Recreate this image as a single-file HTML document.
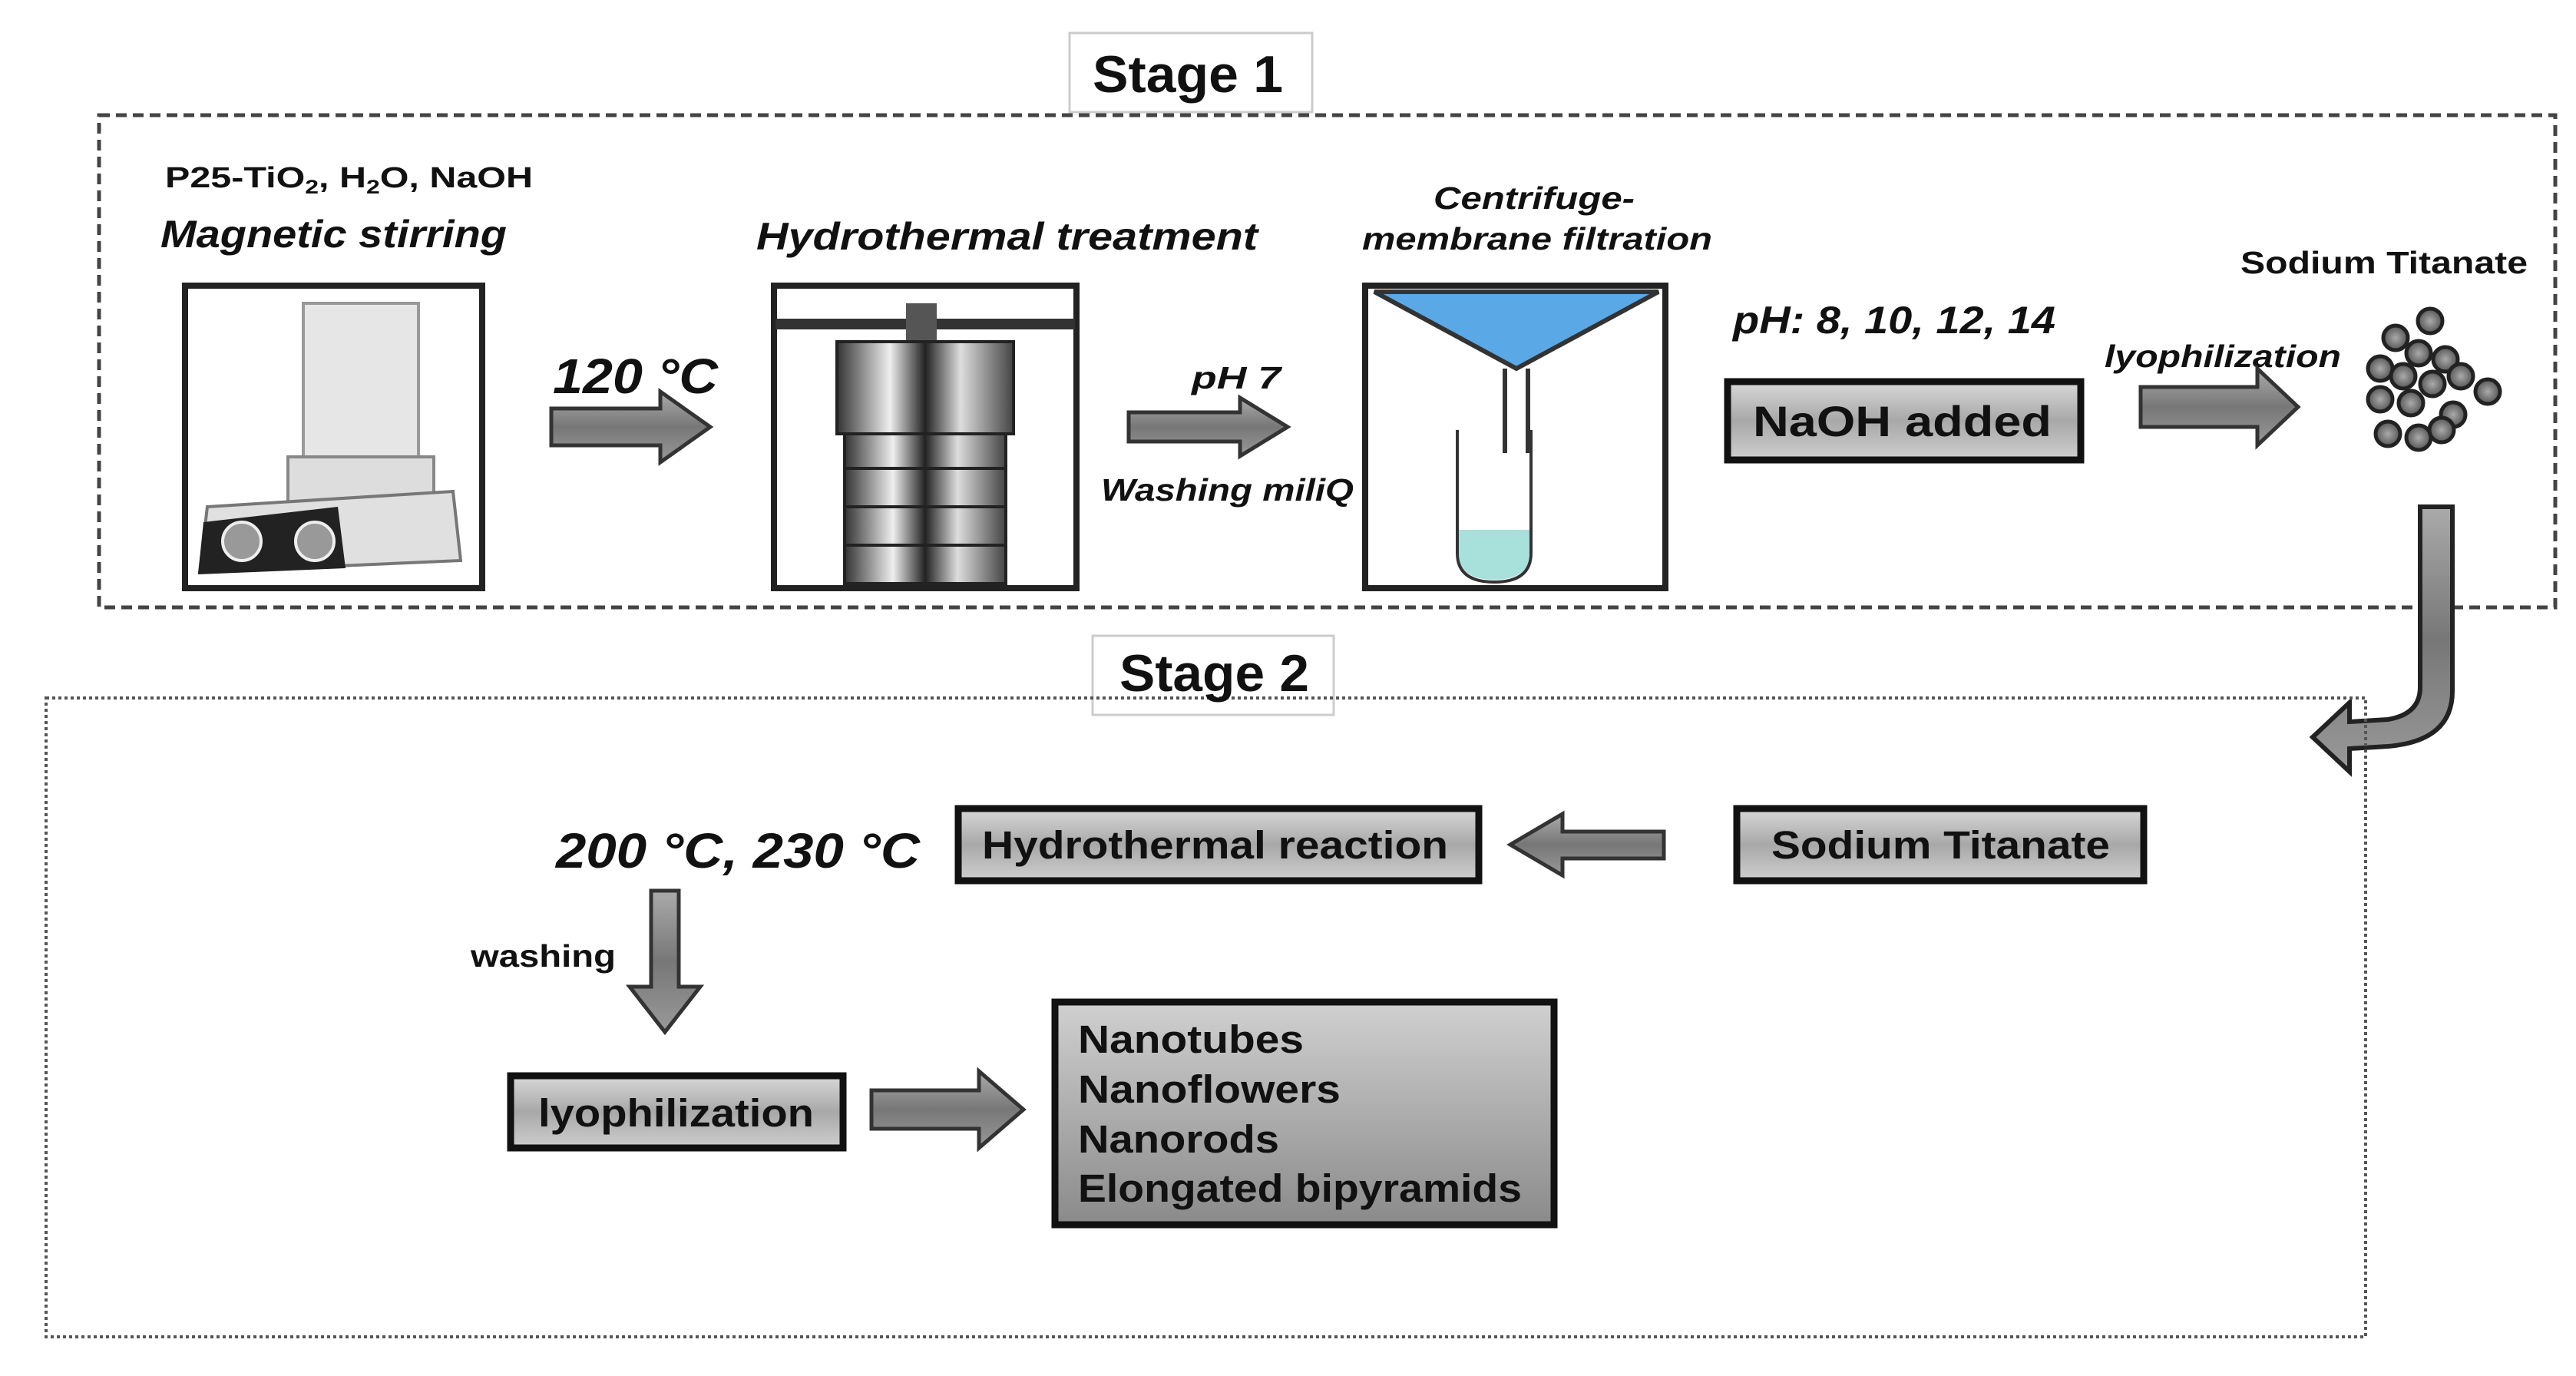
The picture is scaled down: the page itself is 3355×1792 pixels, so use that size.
<!DOCTYPE html>
<html><head><meta charset="utf-8"><style>
html,body{margin:0;padding:0;background:#fff}
svg{display:block}
text{font-family:"Liberation Sans",sans-serif;font-weight:bold;fill:#111}
</style></head><body>
<svg width="3355" height="1792" viewBox="0 0 3355 1792" xmlns="http://www.w3.org/2000/svg">
<defs>
<linearGradient id="bx" x1="0" y1="0" x2="0" y2="1"><stop offset="0" stop-color="#d8d8d8"/><stop offset="0.5" stop-color="#a8a8a8"/><stop offset="1" stop-color="#cfcfcf"/></linearGradient>
<linearGradient id="res" x1="0" y1="0" x2="0" y2="1"><stop offset="0" stop-color="#d0d0d0"/><stop offset="1" stop-color="#8a8a8a"/></linearGradient>
<linearGradient id="ar" x1="0" y1="0" x2="0" y2="1"><stop offset="0" stop-color="#aaa"/><stop offset="0.5" stop-color="#777"/><stop offset="1" stop-color="#999"/></linearGradient>
<linearGradient id="ms" x1="0" y1="0" x2="1" y2="0"><stop offset="0" stop-color="#333"/><stop offset="0.3" stop-color="#eee"/><stop offset="0.5" stop-color="#222"/><stop offset="0.7" stop-color="#ddd"/><stop offset="1" stop-color="#444"/></linearGradient>
<radialGradient id="pt"><stop offset="0" stop-color="#aaa"/><stop offset="1" stop-color="#555"/></radialGradient>
</defs>

<!-- Stage 1 -->
<rect x="1393" y="43" width="316" height="103" fill="#fff" stroke="#ccc" stroke-width="3"/>
<text x="1423" y="120" font-size="68" textLength="248" lengthAdjust="spacingAndGlyphs">Stage 1</text>
<rect x="129" y="150" width="3199" height="641" fill="none" stroke="#444" stroke-width="5" stroke-dasharray="14,8"/>

<text x="215" y="244" font-size="38" textLength="479" lengthAdjust="spacingAndGlyphs">P25-TiO<tspan font-size="25" dy="8">2</tspan><tspan dy="-8">, H</tspan><tspan font-size="25" dy="8">2</tspan><tspan dy="-8">O, NaOH</tspan></text>
<text x="209" y="322" font-size="50" font-style="italic" textLength="451" lengthAdjust="spacingAndGlyphs">Magnetic stirring</text>

<!-- image 1 -->
<rect x="241" y="372" width="387" height="394" fill="#fff" stroke="#222" stroke-width="8"/>
<rect x="395" y="395" width="150" height="200" fill="#e6e6e6" stroke="#999" stroke-width="4"/>
<rect x="375" y="595" width="190" height="60" fill="#ddd" stroke="#888" stroke-width="4"/>
<polygon points="270,660 590,640 600,730 260,745" fill="#e0e0e0" stroke="#777" stroke-width="4"/>
<polygon points="265,680 440,660 450,740 258,748" fill="#222"/>
<circle cx="315" cy="705" r="25" fill="#999" stroke="#eee" stroke-width="4"/>
<circle cx="410" cy="705" r="25" fill="#999" stroke="#eee" stroke-width="4"/>

<text x="720" y="512" font-size="64" font-style="italic" textLength="215" lengthAdjust="spacingAndGlyphs">120 °C</text>
<polygon points="718,532 860,532 860,510 925,556 860,602 860,580 718,580" fill="url(#ar)" stroke="#333" stroke-width="5"/>

<text x="985" y="325" font-size="50" font-style="italic" textLength="653" lengthAdjust="spacingAndGlyphs">Hydrothermal treatment</text>
<rect x="1008" y="372" width="394" height="394" fill="#fff" stroke="#222" stroke-width="8"/>
<rect x="1010" y="415" width="390" height="14" fill="#333"/>
<rect x="1180" y="395" width="40" height="50" fill="#555"/>
<rect x="1090" y="445" width="230" height="120" fill="url(#ms)" stroke="#222" stroke-width="4"/>
<rect x="1100" y="565" width="210" height="195" fill="url(#ms)" stroke="#222" stroke-width="4"/>
<line x1="1100" y1="610" x2="1310" y2="610" stroke="#222" stroke-width="4"/>
<line x1="1100" y1="660" x2="1310" y2="660" stroke="#222" stroke-width="4"/>
<line x1="1100" y1="710" x2="1310" y2="710" stroke="#222" stroke-width="4"/>

<text x="1552" y="506" font-size="41" font-style="italic" textLength="116" lengthAdjust="spacingAndGlyphs">pH  7</text>
<polygon points="1470,537 1615,537 1615,518 1677,556 1615,594 1615,575 1470,575" fill="url(#ar)" stroke="#333" stroke-width="5"/>
<text x="1434" y="652" font-size="41" font-style="italic" textLength="329" lengthAdjust="spacingAndGlyphs">Washing miliQ</text>

<text x="1867" y="272" font-size="41" font-style="italic" textLength="262" lengthAdjust="spacingAndGlyphs">Centrifuge-</text>
<text x="1774" y="325" font-size="41" font-style="italic" textLength="456" lengthAdjust="spacingAndGlyphs">membrane filtration</text>
<rect x="1778" y="372" width="391" height="394" fill="#fff" stroke="#222" stroke-width="8"/>
<polygon points="1790,380 2160,380 1975,480" fill="#5aa9e6" stroke="#333" stroke-width="6"/>
<path d="M1960,480 L1960,590 M1990,480 L1990,590" stroke="#333" stroke-width="6"/>
<path d="M1898,560 L1898,720 Q1898,758 1946,758 Q1994,758 1994,720 L1994,560" fill="none" stroke="#333" stroke-width="4"/>
<path d="M1900,690 L1992,690 L1992,720 Q1992,755 1946,755 Q1900,755 1900,720 Z" fill="#a8e0dc"/>

<text x="2257" y="434" font-size="50" font-style="italic" textLength="420" lengthAdjust="spacingAndGlyphs">pH: 8, 10, 12, 14</text>
<rect x="2250" y="497" width="460" height="102" fill="url(#bx)" stroke="#111" stroke-width="9"/>
<text x="2283" y="568" font-size="56" textLength="389" lengthAdjust="spacingAndGlyphs">NaOH added</text>

<text x="2741" y="478" font-size="41" font-style="italic" textLength="308" lengthAdjust="spacingAndGlyphs">lyophilization</text>
<polygon points="2788,504 2940,504 2940,480 2993,530 2940,580 2940,556 2788,556" fill="url(#ar)" stroke="#333" stroke-width="5"/>

<text x="2918" y="356" font-size="41" textLength="374" lengthAdjust="spacingAndGlyphs">Sodium Titanate</text>
<g fill="url(#pt)" stroke="#222" stroke-width="5">
<circle cx="3165" cy="418" r="16"/><circle cx="3120" cy="440" r="16"/><circle cx="3150" cy="460" r="16"/><circle cx="3185" cy="468" r="16"/>
<circle cx="3100" cy="480" r="16"/><circle cx="3130" cy="490" r="16"/><circle cx="3168" cy="500" r="16"/><circle cx="3205" cy="490" r="16"/>
<circle cx="3240" cy="510" r="16"/><circle cx="3100" cy="520" r="16"/><circle cx="3140" cy="525" r="16"/><circle cx="3195" cy="540" r="16"/>
<circle cx="3110" cy="565" r="16"/><circle cx="3150" cy="570" r="16"/><circle cx="3180" cy="560" r="16"/>
</g>

<!-- curved arrow -->
<path d="M3152,660 L3194,660 L3194,900 Q3194,965 3110,972 L3060,975 L3060,1005 L3012,960 L3060,915 L3060,940 L3110,937 Q3152,930 3152,895 Z" fill="url(#ar)" stroke="#222" stroke-width="6"/>

<!-- Stage 2 -->
<rect x="1423" y="828" width="314" height="103" fill="#fff" stroke="#ccc" stroke-width="3"/>
<rect x="60" y="909" width="3021" height="832" fill="none" stroke="#555" stroke-width="4" stroke-dasharray="4,4"/>
<rect x="1430" y="830" width="300" height="76" fill="#fff"/>
<text x="1458" y="900" font-size="68" textLength="247" lengthAdjust="spacingAndGlyphs">Stage 2</text>

<rect x="2262" y="1053" width="530" height="94" fill="url(#bx)" stroke="#111" stroke-width="9"/>
<text x="2307" y="1118" font-size="51" textLength="441" lengthAdjust="spacingAndGlyphs">Sodium Titanate</text>
<polygon points="2167,1083 2035,1083 2035,1060 1967,1100 2035,1140 2035,1118 2167,1118" fill="url(#ar)" stroke="#333" stroke-width="5"/>
<rect x="1248" y="1053" width="678" height="94" fill="url(#bx)" stroke="#111" stroke-width="9"/>
<text x="1279" y="1118" font-size="51" textLength="607" lengthAdjust="spacingAndGlyphs">Hydrothermal reaction</text>

<text x="724" y="1130" font-size="64" font-style="italic" textLength="474" lengthAdjust="spacingAndGlyphs">200 °C, 230 °C</text>
<polygon points="848,1160 884,1160 884,1285 912,1285 866,1344 820,1285 848,1285" fill="url(#ar)" stroke="#333" stroke-width="5"/>
<text x="613" y="1259" font-size="41" textLength="189" lengthAdjust="spacingAndGlyphs">washing</text>

<rect x="665" y="1401" width="433" height="94" fill="url(#bx)" stroke="#111" stroke-width="9"/>
<text x="701" y="1467" font-size="51" textLength="359" lengthAdjust="spacingAndGlyphs">lyophilization</text>
<polygon points="1135,1420 1275,1420 1275,1395 1333,1445 1275,1495 1275,1470 1135,1470" fill="url(#ar)" stroke="#333" stroke-width="5"/>

<rect x="1374" y="1305" width="650" height="290" fill="url(#res)" stroke="#111" stroke-width="9"/>
<text x="1404" y="1371" font-size="51" textLength="294" lengthAdjust="spacingAndGlyphs">Nanotubes</text>
<text x="1404" y="1436" font-size="51" textLength="342" lengthAdjust="spacingAndGlyphs">Nanoflowers</text>
<text x="1404" y="1501" font-size="51" textLength="262" lengthAdjust="spacingAndGlyphs">Nanorods</text>
<text x="1404" y="1565" font-size="51" textLength="578" lengthAdjust="spacingAndGlyphs">Elongated bipyramids</text>
</svg>
</body></html>
